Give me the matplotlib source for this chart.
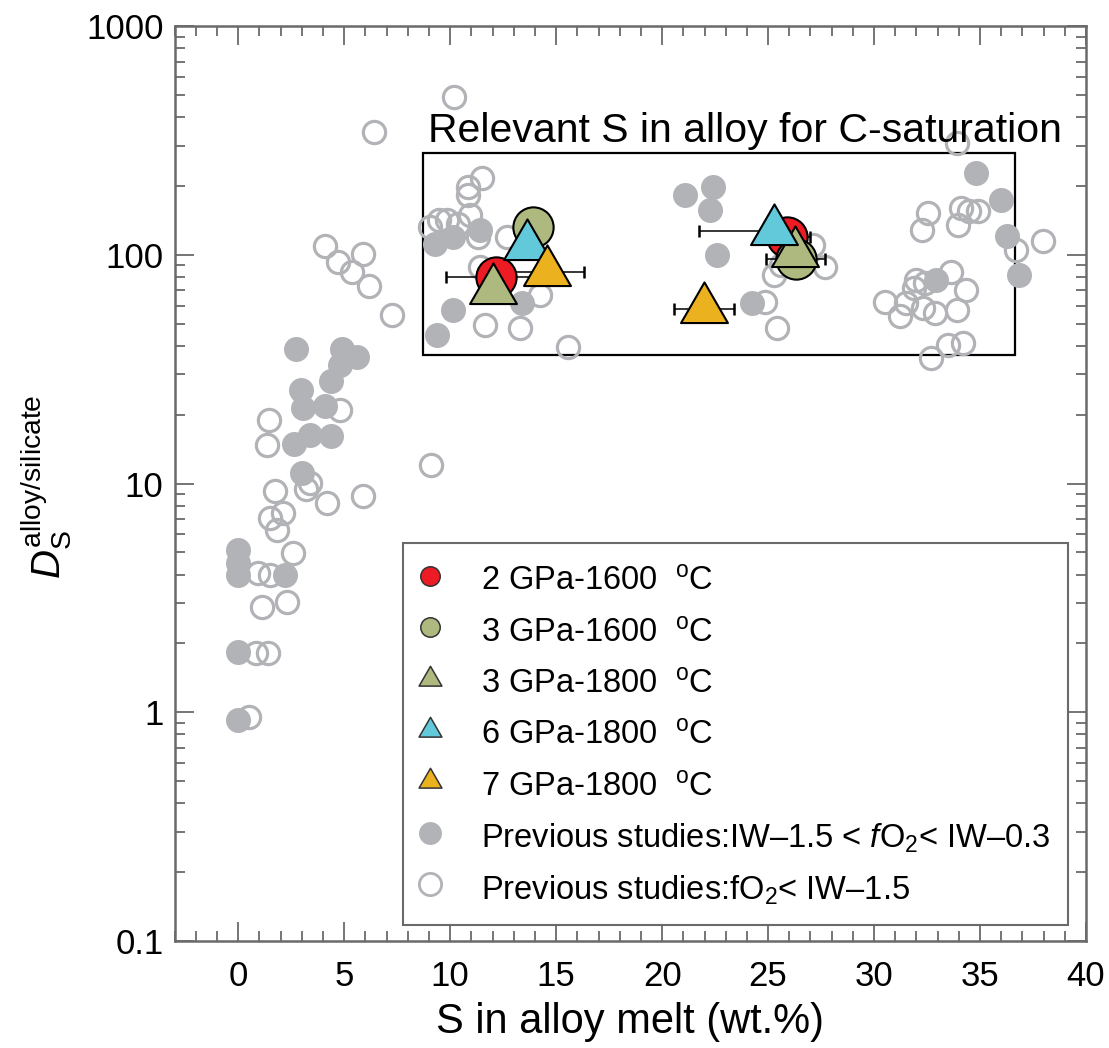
import matplotlib
matplotlib.use('Agg')
import matplotlib.pyplot as plt
from matplotlib.lines import Line2D
from matplotlib.patches import Rectangle
from matplotlib.path import Path
from matplotlib.ticker import MultipleLocator, LogLocator, FuncFormatter, NullFormatter

plt.rcParams['font.family'] = ['Liberation Sans', 'DejaVu Sans']
plt.rcParams['mathtext.fontset'] = 'custom'
plt.rcParams['mathtext.rm'] = 'Liberation Sans'
plt.rcParams['mathtext.it'] = 'Liberation Sans:italic'
plt.rcParams['mathtext.bf'] = 'Liberation Sans:bold'

# previous studies, IW-1.5 < fO2 < IW-0.3 (filled grey)
prev_filled_x = [0.0, 0.0, 0.0, 0.0, 0.0, 2.2,
                 2.72, 4.88, 5.61, 4.80, 4.37, 2.96, 3.04, 4.09, 4.36, 3.38, 2.63, 2.99,
                 9.28, 10.14, 11.4, 10.14, 9.36, 13.37,
                 21.07, 22.41, 22.25, 22.57, 24.22,
                 34.8, 35.98, 36.29, 36.83, 32.9]
prev_filled_y = [5.1, 4.5, 4.0, 1.84, 0.93, 4.0,
                 38.6, 38.6, 35.7, 33.0, 28.2, 25.6, 21.3, 21.8, 16.2, 16.3, 14.9, 11.1,
                 112, 120, 128, 57.4, 44.7, 61.4,
                 183, 199, 157, 100, 61.4,
                 229, 174, 121, 81.7, 77.6]

# previous studies, fO2 < IW-1.5 (open grey)
prev_open_x = [10.16, 6.42,
               11.48, 10.85, 10.85, 9.05, 9.45, 9.83, 10.38, 10.93, 11.33, 12.66,
               11.4, 14.23, 11.64, 13.29, 15.57,
               4.09, 4.72, 5.35, 5.87, 6.18, 7.26,
               1.45, 1.37, 4.80, 9.09, 3.38, 3.19, 4.17, 5.87, 1.73, 2.12, 1.5, 1.81,
               2.59, 0.94, 1.5, 1.10, 2.31, 0.83, 1.42, 0.52,
               24.84, 25.4, 25.3, 25.6, 27.67, 27.1,
               33.92, 32.55, 32.28, 34.1, 34.5, 34.9, 33.96, 36.7, 37.97,
               32.0, 32.4, 31.9, 33.65, 34.36, 30.5, 31.53, 31.2, 32.3, 32.86, 33.9,
               33.5, 34.2, 32.7]
prev_open_y = [492, 346,
               216, 199, 183, 133, 142, 142, 137, 149, 120, 120,
               88.8, 66.8, 49.4, 47.8, 39.7,
               109, 93.3, 84.5, 101, 73.3, 54.6,
               19.0, 14.8, 21.0, 12.1, 10.1, 9.44, 8.2, 8.83, 9.31, 7.41, 7.05, 6.27,
               4.96, 4.05, 3.99, 2.88, 3.04, 1.82, 1.81, 0.957,
               62.4, 47.8, 81.7, 90, 88.8, 110,
               308, 152, 128.5, 160, 155, 155, 135, 105, 115,
               77.6, 75.6, 71.5, 84.3, 70.2, 62.4, 61.4, 53.8, 58.5, 55.7, 57.4,
               40.3, 41.0, 35.4]

# this study
gpa2_1600_x = [12.16, 25.9]
gpa2_1600_y = [80.3, 119.4]
gpa2_1600_xerr = [2.38, 1.07]

gpa3_1600_x = [13.9, 26.3]
gpa3_1600_y = [132, 95.7]
gpa3_1600_xerr = [0.0, 1.4]

gpa3_1800_x = [12.0, 26.26]
gpa3_1800_y = [69.9, 102.3]
gpa3_1800_xerr = [0.0, 0.0]

gpa6_1800_x = [13.6, 25.28]
gpa6_1800_y = [109.7, 127.2]
gpa6_1800_xerr_lo = [0.0, 3.55]
gpa6_1800_xerr_hi = [0.0, 1.0]

gpa7_1800_x = [14.56, 21.98]
gpa7_1800_y = [84.5, 58.2]
gpa7_1800_xerr = [1.74, 1.4]

labels = ['2 GPa-1600  $^{\\mathrm{o}}$C',
          '3 GPa-1600  $^{\\mathrm{o}}$C',
          '3 GPa-1800  $^{\\mathrm{o}}$C',
          '6 GPa-1800  $^{\\mathrm{o}}$C',
          '7 GPa-1800  $^{\\mathrm{o}}$C',
          'Previous studies:IW\u20131.5 < $f$O$_2$< IW\u20130.3',
          'Previous studies:fO$_2$< IW\u20131.5']

# box: S range relevant for C-saturation
box_x = [8.70, 36.63]
box_y = [36.6, 278]

RED = '#ED1C24'
OLIVE = '#ADB97F'
CYAN = '#62C9DB'
YELLOW = '#EBB11F'
GREY = '#B2B3B7'
AXC = '#6A6A6A'

tri = Path([(0, 1.1547), (-1, -0.5774), (1, -0.5774), (0, 1.1547)],
           [Path.MOVETO, Path.LINETO, Path.LINETO, Path.CLOSEPOLY])

fig = plt.figure(figsize=(11.09, 10.48), dpi=100)
ax = fig.add_axes([174.7 / 1109, 107 / 1048, 911.3 / 1109, 914.8 / 1048])
ax.set_yscale('log')
ax.set_xlim(-3, 40)
ax.set_ylim(0.1, 1000)

ax.add_patch(Rectangle((box_x[0], box_y[0]), box_x[1] - box_x[0], box_y[1] - box_y[0],
                       fill=False, ec='black', lw=1.6, zorder=1.5))
ax.text(0.2785, 0.8737, 'Relevant S in alloy for C-saturation', transform=ax.transAxes,
        ha='left', va='baseline', fontsize=29.5)

ax.plot(prev_filled_x, prev_filled_y, ls='none', marker='o', ms=18, mfc=GREY, mec='none', zorder=2)
ax.plot(prev_open_x, prev_open_y, ls='none', marker='o', ms=16, mfc='none', mec=GREY, mew=2.3, zorder=2.1)

eb = dict(fmt='none', ecolor='black', elinewidth=1.1, capsize=4.5, capthick=1.8, zorder=3)
ax.errorbar(gpa2_1600_x, gpa2_1600_y, xerr=gpa2_1600_xerr, **eb)
ax.errorbar(gpa3_1600_x, gpa3_1600_y, xerr=gpa3_1600_xerr, **eb)
ax.errorbar(gpa6_1800_x, gpa6_1800_y, xerr=[gpa6_1800_xerr_lo, gpa6_1800_xerr_hi], **eb)
ax.errorbar(gpa7_1800_x, gpa7_1800_y, xerr=gpa7_1800_xerr, **eb)

mk = dict(ls='none', mec='black', mew=1.5)
ax.plot(gpa2_1600_x, gpa2_1600_y, marker='o', ms=29, mfc=RED, zorder=4, **mk)
ax.plot(gpa3_1600_x, gpa3_1600_y, marker='o', ms=29, mfc=OLIVE, zorder=4.1, **mk)
ax.plot(gpa3_1800_x, gpa3_1800_y, marker=tri, ms=39, mfc=OLIVE, zorder=4.2, **mk)
ax.plot(gpa6_1800_x, gpa6_1800_y, marker=tri, ms=39, mfc=CYAN, zorder=4.3, **mk)
ax.plot(gpa7_1800_x, gpa7_1800_y, marker=tri, ms=39, mfc=YELLOW, zorder=4.4, **mk)

handles = [
    Line2D([], [], ls='none', marker='o', ms=14, mfc=RED, mec='#333333', mew=1.1),
    Line2D([], [], ls='none', marker='o', ms=14, mfc=OLIVE, mec='#333333', mew=1.1),
    Line2D([], [], ls='none', marker=tri, ms=19, mfc=OLIVE, mec='#333333', mew=1.1),
    Line2D([], [], ls='none', marker=tri, ms=19, mfc=CYAN, mec='#333333', mew=1.1),
    Line2D([], [], ls='none', marker=tri, ms=19, mfc=YELLOW, mec='#333333', mew=1.1),
    Line2D([], [], ls='none', marker='o', ms=16.5, mfc=GREY, mec='none'),
    Line2D([], [], ls='none', marker='o', ms=16, mfc='none', mec=GREY, mew=2.0),
]
leg = ax.legend(handles, labels, loc='upper left', bbox_to_anchor=(0.2502, 0.435),
                borderaxespad=0, fontsize=23.5, frameon=True, fancybox=False,
                edgecolor=AXC, framealpha=1, borderpad=0.55, handlelength=0.6,
                handletextpad=1.25, handleheight=1.4, labelspacing=0.42)
leg.get_frame().set_linewidth(1.5)
leg.set_zorder(6)

ax.xaxis.set_major_locator(MultipleLocator(5))
ax.xaxis.set_minor_locator(MultipleLocator(1))
ax.yaxis.set_major_locator(LogLocator(base=10, numticks=10))
ax.yaxis.set_minor_locator(LogLocator(base=10, subs=range(2, 10), numticks=10))
ax.yaxis.set_major_formatter(FuncFormatter(lambda v, p: '%g' % v))
ax.yaxis.set_minor_formatter(NullFormatter())

ax.tick_params(which='both', direction='in', top=True, right=True, color=AXC, width=1.3)
ax.tick_params(which='major', length=13.5)
ax.tick_params(which='minor', length=7.2)
ax.tick_params(axis='x', labelsize=25, pad=14)
ax.tick_params(axis='y', labelsize=25, pad=8)
for s in ax.spines.values():
    s.set_color(AXC)
    s.set_linewidth(1.8)

ax.set_xlabel('S in alloy melt (wt.%)', fontsize=30, labelpad=6)
ax.set_ylabel(r'$D_{\mathrm{S}}^{\mathrm{alloy/silicate}}$', fontsize=29)
ax.yaxis.set_label_coords(-0.1105, 0.497)

fig.savefig('out.png', dpi=100)
